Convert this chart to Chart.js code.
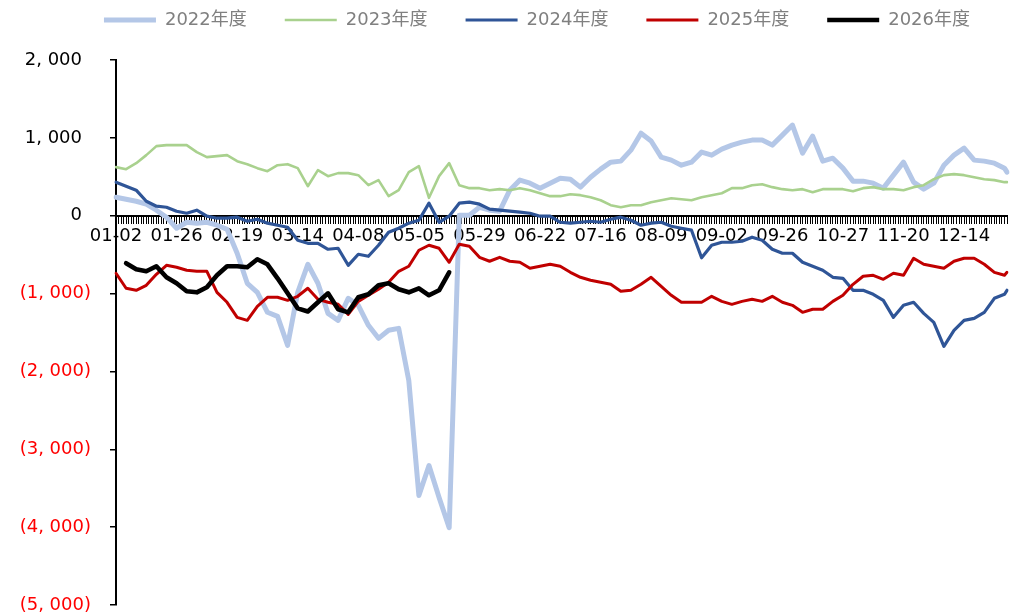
<!DOCTYPE html>
<html>
<head>
<meta charset="utf-8">
<script src="https://cdn.jsdelivr.net/npm/chart.js@4/dist/chart.umd.min.js"></script>
<style>
  html, body { margin: 0; padding: 0; background: #ffffff; }
  #wrap { width: 1010px; height: 616px; }
</style>
</head>
<body>
<div id="wrap"><canvas id="chart" width="1010" height="616"></canvas></div>
<script>
// Calendar of the x axis: every day of the year except the holiday breaks
const calendarYear = 2024;
const skippedDays = ['04-04', '05-01', '05-02', '05-03',
  '10-01', '10-02', '10-03', '10-04', '10-05', '10-06', '10-07'];
const categories = [];
for (let d = new Date(Date.UTC(calendarYear, 0, 2)); d.getUTCFullYear() === calendarYear; d.setUTCDate(d.getUTCDate() + 1)) {
  const mmdd = String(d.getUTCMonth() + 1).padStart(2, '0') + '-' + String(d.getUTCDate()).padStart(2, '0');
  if (!skippedDays.includes(mmdd)) categories.push(mmdd);
}

// Dates that carry a visible label
const tickLabels = ['01-02', '01-26', '02-19', '03-14', '04-08', '05-05', '05-29', '06-22',
  '07-16', '08-09', '09-02', '09-26', '10-27', '11-20', '12-14'];

// Series readings, one value every 4th calendar entry (last value = final day)
const sampleStep = 4;
const seriesNames = ['2022年度', '2023年度', '2024年度', '2025年度', '2026年度'];

const values2022 = [238, 212, 186, 148, 71, -19, -161, -84, -96, -84,
  -122, -174, -482, -868, -984, -1240, -1292, -1665, -984, -624,
  -868, -1254, -1344, -1061, -1151, -1408, -1575, -1472, -1447, -2116,
  -3594, -3209, -3620, -4007, 6, 6, 109, 71, 58, 328,
  457, 418, 354, 418, 482, 469, 367, 495, 598, 688,
  701, 842, 1060, 960, 752, 714, 649, 688, 817, 778,
  855, 907, 945, 971, 971, 907, 1035, 1164, 804, 1022,
  701, 739, 611, 444, 444, 418, 354, 521, 688, 431,
  341, 418, 649, 778, 868, 714, 701, 675, 611, 559];

const values2023 = [624, 598, 675, 778, 894, 907, 907, 907, 817, 752,
  765, 778, 701, 662, 611, 572, 649, 662, 611, 379,
  585, 508, 547, 547, 521, 392, 457, 251, 328, 559,
  637, 230, 508, 675, 392, 354, 354, 328, 341, 328,
  354, 328, 289, 251, 251, 276, 264, 238, 199, 135,
  109, 135, 135, 174, 199, 225, 212, 199, 238, 264,
  289, 354, 354, 392, 405, 367, 341, 328, 341, 302,
  341, 341, 341, 315, 354, 367, 341, 341, 328, 367,
  392, 469, 521, 534, 521, 495, 469, 457, 431, 431];

const values2024 = [431, 379, 328, 186, 122, 109, 58, 32, 71, -6,
  -32, -32, -19, -71, -45, -96, -122, -148, -315, -354,
  -354, -431, -418, -637, -495, -521, -379, -212, -161, -96,
  -58, 161, -84, -6, 161, 174, 148, 84, 71, 58,
  45, 32, -6, -6, -84, -96, -84, -71, -84, -45,
  -19, -58, -122, -96, -84, -135, -161, -186, -540, -379,
  -341, -341, -328, -276, -315, -431, -482, -482, -598, -649,
  -701, -791, -804, -958, -958, -1009, -1087, -1305, -1151, -1112,
  -1254, -1370, -1678, -1472, -1344, -1318, -1241, -1061, -1009, -958];

const values2025 = [-739, -932, -958, -894, -752, -637, -662, -701, -714, -714,
  -984, -1112, -1305, -1344, -1164, -1048, -1048, -1087, -1035, -932,
  -1074, -1112, -1138, -1267, -1100, -1022, -945, -855, -714, -649,
  -444, -379, -418, -598, -367, -392, -534, -585, -534, -585,
  -598, -675, -649, -624, -649, -727, -791, -829, -855, -881,
  -971, -958, -881, -791, -907, -1022, -1112, -1112, -1112, -1035,
  -1100, -1138, -1100, -1074, -1100, -1035, -1112, -1151, -1241, -1202,
  -1202, -1100, -1022, -881, -778, -765, -817, -739, -765, -547,
  -624, -649, -675, -585, -547, -547, -624, -727, -765, -727];

const values2026 = [null, -611, -688, -714, -649, -791, -868, -971, -984, -919,
  -765, -649, -649, -662, -559, -624, -804, -997, -1190, -1230,
  -1112, -997, -1202, -1241, -1048, -1009, -894, -868, -945, -984,
  -932, -1022, -958, -727];

const seriesColors = ['#b4c7e7', '#a9d18e', '#2f5597', '#c00000', '#000000'];
const seriesWidths = [5, 2.6, 3.2, 3, 4.6];

const yMin = -5000, yMax = 2000, yStep = 1000;

function toPoints(values) {
  const pts = [];
  values.forEach((v, j) => {
    if (v === null) return;
    pts.push({ x: categories[Math.min(j * sampleStep, categories.length - 1)], y: v });
  });
  return pts;
}

// Accounting style: negatives in parentheses, positives padded where the ")" would sit
function formatAxisValue(v) {
  const s = Math.abs(v).toLocaleString('en-US').replace(/,/g, ', ');
  if (v < 0) return '(' + s + ')';
  return s + '\u2002';
}

const fontFamily = "'DejaVu Sans', 'Noto Sans CJK SC', sans-serif";
const allValues = [values2022, values2023, values2024, values2025, values2026];

const datasets = allValues.map((vals, k) => ({
  label: seriesNames[k],
  data: toPoints(vals),
  borderColor: seriesColors[k],
  backgroundColor: seriesColors[k],
  borderWidth: seriesWidths[k],
  borderCapStyle: 'round',
  borderJoinStyle: 'round',
  pointRadius: 0,
  pointHoverRadius: 0,
  tension: 0,
  fill: false,
  order: allValues.length - k
}));

new Chart(document.getElementById('chart'), {
  type: 'line',
  data: { labels: categories, datasets },
  options: {
    responsive: false,
    devicePixelRatio: 1,
    animation: false,
    events: [],
    layout: { padding: { left: 0, right: 2, top: 0, bottom: 11 } },
    plugins: {
      tooltip: { enabled: false },
      legend: {
        position: 'top',
        align: 'end',
        weight: 3000,
        labels: {
          usePointStyle: true,
          pointStyle: 'line',
          pointStyleWidth: 52,
          padding: 11,
          color: '#808080',
          font: { family: fontFamily, size: 18 },
          sort: (a, b) => a.datasetIndex - b.datasetIndex,
          generateLabels: (chart) => {
            const items = Chart.defaults.plugins.legend.labels.generateLabels(chart);
            items.forEach(it => { it.text = it.text + '\u2003\u2002'; });
            return items;
          }
        }
      },
      // empty spacer between the legend and the plot
      title: {
        display: true,
        text: '',
        padding: 0,
        font: { size: 21, lineHeight: 1 }
      }
    },
    scales: {
      x: {
        type: 'category',
        position: { y: 0 },
        offset: false,
        afterFit: (scale) => { scale.height = 0; },
        grid: { drawOnChartArea: false, drawTicks: true, tickLength: 7, color: '#000000', lineWidth: 1 },
        border: { display: true, color: '#000000', width: 2 },
        ticks: {
          autoSkip: false,
          maxRotation: 0,
          minRotation: 0,
          padding: 3,
          color: '#000000',
          font: { family: fontFamily, size: 18 },
          callback: function (value) {
            const lab = this.getLabelForValue(value);
            return tickLabels.includes(lab) ? lab : '';
          }
        }
      },
      y: {
        min: yMin,
        max: yMax,
        grid: { drawOnChartArea: false, drawTicks: true, tickLength: 6, color: '#000000', lineWidth: 1.5 },
        border: { display: true, color: '#000000', width: 2 },
        ticks: {
          stepSize: yStep,
          padding: 19,
          font: { family: fontFamily, size: 18 },
          color: (ctx) => (ctx.tick && ctx.tick.value < 0 ? '#ff0000' : '#000000'),
          callback: (v) => formatAxisValue(v)
        },
        afterFit: (scale) => {
          scale.width = 116;
          scale.paddingTop = 0;
          scale.paddingBottom = 0;
        }
      }
    }
  }
});
</script>
</body>
</html>
